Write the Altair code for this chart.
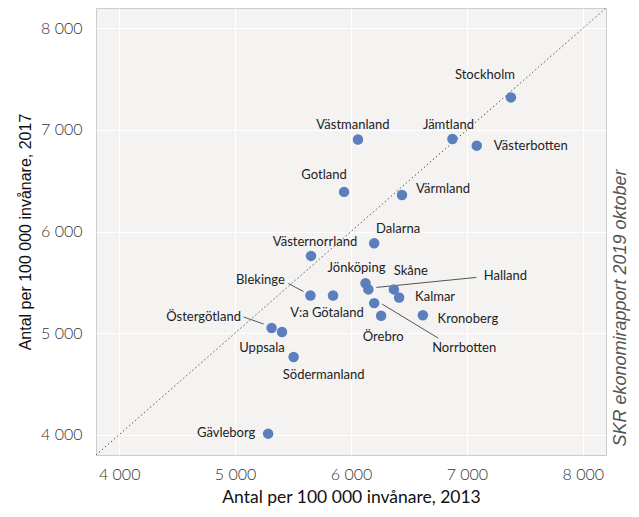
import altair as alt
import pandas as pd

# ---- data ----
counties = ["Stockholm", "Västmanland", "Jämtland", "Västerbotten", "Gotland",
            "Värmland", "Dalarna", "Västernorrland", "Jönköping", "Halland",
            "Skåne", "Kalmar", "Blekinge", "V:a Götaland", "Norrbotten",
            "Örebro", "Kronoberg", "Östergötland", "Uppsala", "Södermanland",
            "Gävleborg"]
v2013 = [7380, 6060, 6875, 7085, 5940, 6440, 6200, 5655, 6125, 6150,
         6370, 6415, 5650, 5845, 6200, 6260, 6620, 5315, 5405, 5505, 5285]
v2017 = [7320, 6905, 6910, 6845, 6390, 6360, 5885, 5760, 5490, 5430,
         5430, 5350, 5370, 5370, 5295, 5170, 5175, 5050, 5010, 4765, 4010]

# label offsets from the point (pixels)
label_dx = [-26, -5, -4, 54, -20, 41, 24, 4, -9, 137, 17, 36, -50, -6, 90, 2, 45, -68, -20, 30, -42]
label_dy = [-22, -15, -14, 0, -17, -6, -14, -14, -15, -13, -18, -1, -16, 17, 45, 21, 4, -11, 16, 18, -1]

# leader lines: county, start offset (px), end offset (px)
leader_names = ["Halland", "Blekinge", "Norrbotten", "Östergötland"]
leader_sx = [8, -22, 8, -28]
leader_sy = [-2, -12, 1, -11]
leader_ex = [108, -7, 64, -8]
leader_ey = [-12, -4, 35, -4]

diag = [3800, 8200]
ticks = [4000, 5000, 6000, 7000, 8000]
x_title = "Antal per 100 000 invånare, 2013"
y_title = "Antal per 100 000 invånare, 2017"
source = "SKR ekonomirapport 2019 oktober"

W, H = 510, 447
DOM = [3800, 8200]
kx = (DOM[1] - DOM[0]) / W
ky = (DOM[1] - DOM[0]) / H

df = pd.DataFrame({"county": counties, "x": v2013, "y": v2017,
                   "dx": label_dx, "dy": label_dy})
df["lx"] = df["x"] + df["dx"] * kx
df["ly"] = df["y"] - df["dy"] * ky

lead = pd.DataFrame({"county": leader_names, "sx": leader_sx, "sy": leader_sy,
                     "ex": leader_ex, "ey": leader_ey}).merge(df[["county", "x", "y"]], on="county")
lead["x1"] = lead["x"] + lead["sx"] * kx
lead["y1"] = lead["y"] - lead["sy"] * ky
lead["x2"] = lead["x"] + lead["ex"] * kx
lead["y2"] = lead["y"] - lead["ey"] * ky

ddf = pd.DataFrame({"x": diag, "y": diag})

lab_expr = "replace(format(datum.value, ',d'), ',', ' ')"
xs = alt.Scale(domain=DOM, nice=False, zero=False)
ys = alt.Scale(domain=DOM, nice=False, zero=False)
xaxis = alt.Axis(values=ticks, labelExpr=lab_expr, title=x_title, ticks=False, tickSize=0,
                 domain=False, labelPadding=11, titlePadding=6,
                 labelFont="Lato", labelFontSize=16, labelFontWeight=300, labelColor="#333333",
                 titleFont="Lato", titleFontSize=17.5, titleFontWeight="normal", titleColor="#111111",
                 grid=True, gridColor="#ffffff", gridWidth=1)
yaxis = alt.Axis(values=ticks, labelExpr=lab_expr, title=y_title, ticks=False, tickSize=0,
                 domain=False, labelPadding=14, titlePadding=7,
                 labelFont="Lato", labelFontSize=16, labelFontWeight=300, labelColor="#333333",
                 titleFont="Liberation Sans", titleFontSize=16, titleFontWeight="normal", titleColor="#111111",
                 grid=True, gridColor="#ffffff", gridWidth=1)

diag_line = alt.Chart(ddf).mark_line(color="#555555", strokeWidth=1, strokeDash=[1.5, 2.5], clip=True).encode(
    x=alt.X("x:Q", scale=xs, axis=xaxis),
    y=alt.Y("y:Q", scale=ys, axis=yaxis),
)

rules = alt.Chart(lead).mark_rule(color="#555555", strokeWidth=1).encode(
    x=alt.X("x1:Q", scale=xs), y=alt.Y("y1:Q", scale=ys), x2="x2:Q", y2="y2:Q"
)

points = alt.Chart(df).mark_circle(size=110, color="#5b7fbe", opacity=1).encode(
    x=alt.X("x:Q", scale=xs), y=alt.Y("y:Q", scale=ys)
)

labels = alt.Chart(df).mark_text(font="Lato", fontSize=13, color="#222222",
                                 align="center", baseline="middle").encode(
    x=alt.X("lx:Q", scale=xs), y=alt.Y("ly:Q", scale=ys), text="county:N"
)

src = alt.Chart(pd.DataFrame({"t": [source]})).mark_text(
    font="Liberation Sans", fontSize=18, fontStyle="italic", color="#555555",
    angle=270, align="center", baseline="middle").encode(
    text="t:N", x=alt.value(W + 15), y=alt.value(300)
)

chart = alt.layer(diag_line, rules, points, labels, src).properties(
    width=W, height=H,
    padding={"left": 88, "top": 0, "right": 25, "bottom": 54},
    autosize=alt.AutoSizeParams(type="none"),
    background="white",
).configure_view(fill="#f4f3f2", stroke="#cccccc", strokeWidth=1)

chart.save("out.html", embed_options={"renderer": "svg", "actions": False})
